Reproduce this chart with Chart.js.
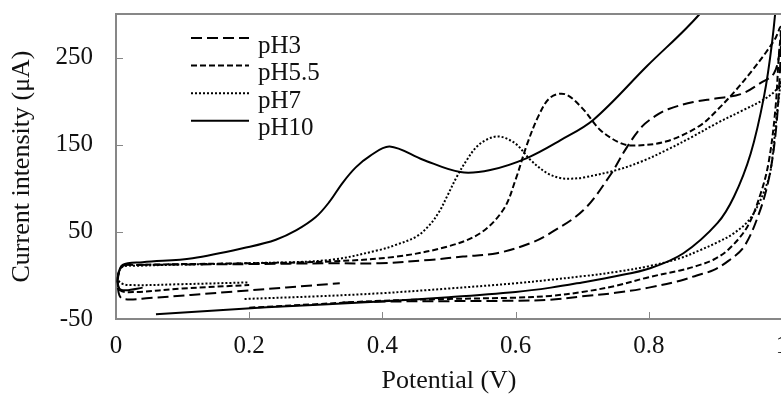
<!DOCTYPE html>
<html>
<head>
<meta charset="utf-8">
<script src="https://cdn.jsdelivr.net/npm/chart.js@4.4.1/dist/chart.umd.min.js"></script>
<style>
  html, body { margin: 0; padding: 0; background: #fff; overflow: hidden; }
  #wrap { position: relative; width: 800px; height: 394px; }
</style>
</head>
<body>
<div id="wrap"><canvas id="cv"></canvas></div>
<script>
// Cyclic voltammograms at four pH values.
const seriesNames = ['pH3', 'pH5.5', 'pH7', 'pH10'];

const pH3Potential = [0.34, 0.4, 0.5, 0.6, 0.652, 0.7, 0.75, 0.8, 0.847, 0.872, 0.897, 0.92, 0.943, 0.965, 0.98, 0.99, 0.996, 0.999,
  0.997, 0.988, 0.968, 0.938, 0.9, 0.867, 0.83, 0.81, 0.79, 0.767, 0.742, 0.702, 0.652, 0.622, 0.572, 0.521, 0.471, 0.396, 0.321,
  0.2, 0.1, 0.03, 0.01, 0.003, 0.004, 0.01, 0.05, 0.175, 0.336];
const pH3Current = [-31, -30, -29.5, -29, -28, -24, -20, -14, -6, 0, 6, 17, 33, 70, 110, 160, 220, 282,
  260, 232, 221, 208, 203, 199, 191, 183, 171, 147, 115, 75, 48.5, 37, 25.5, 21.6, 17.8, 14, 14,
  13, 12.5, 12, 11, 0, -20, -27, -26, -18.6, -9];

const pH55Potential = [0.2, 0.3, 0.4, 0.5, 0.6, 0.652, 0.7, 0.75, 0.8, 0.847, 0.872, 0.897, 0.92, 0.948, 0.968, 0.98, 0.99, 0.995, 0.998,
  0.99, 0.975, 0.955, 0.93, 0.903, 0.877, 0.827, 0.777, 0.757, 0.727, 0.7, 0.674, 0.652, 0.635, 0.617, 0.6, 0.582, 0.547, 0.497,
  0.421, 0.321, 0.2, 0.1, 0.03, 0.01, 0.003, 0.006, 0.03, 0.1, 0.2];
const pH55Current = [-37, -33, -29, -27, -25.5, -23.5, -19, -12, -2, 5.7, 11, 18, 30, 56, 94, 130, 190, 250, 285,
  272, 255, 235, 212, 190, 172, 154, 149, 152, 167, 192, 208, 204, 184, 150, 110, 76, 48.5, 33,
  21.6, 16, 14, 13, 12, 11, -3, -17, -19, -15, -11];

const pH7Potential = [0.193, 0.3, 0.396, 0.5, 0.6, 0.652, 0.7, 0.75, 0.802, 0.847, 0.877, 0.903, 0.928, 0.95, 0.963, 0.975, 0.983, 0.993, 0.998,
  0.999, 0.99, 0.973, 0.94, 0.903, 0.865, 0.827, 0.79, 0.752, 0.702, 0.682, 0.667, 0.647, 0.622, 0.602, 0.585, 0.572, 0.557, 0.542,
  0.527, 0.512, 0.497, 0.486, 0.471, 0.451, 0.42, 0.396, 0.321, 0.2, 0.1, 0.03, 0.01, 0.003, 0.006, 0.02, 0.1, 0.2];
const pH7Current = [-27, -24, -20.5, -15, -9, -5, -1, 4, 10.9, 19.8, 29, 38, 48.5, 63, 79, 100, 121, 190, 221,
  223, 212, 202, 189, 175, 159, 144, 131, 121, 112.4, 111, 111.7, 117.5, 132.8, 150, 157.5, 159.5, 156, 148,
  132.8, 113.6, 90.6, 74, 58, 44.6, 35, 29.3, 17.8, 14, 12.5, 11, 10, 0, -8, -11, -10, -8];

const pH10Potential = [0.06, 0.226, 0.396, 0.5, 0.6, 0.653, 0.7, 0.75, 0.802, 0.852, 0.903, 0.928, 0.953, 0.973, 0.985, 0.993, 1.0,
  0.95, 0.877, 0.797, 0.717, 0.667, 0.617, 0.562, 0.517, 0.461, 0.411, 0.381, 0.36, 0.34, 0.32, 0.3, 0.271, 0.24, 0.201, 0.115,
  0.04, 0.01, 0.003, 0.005, 0.015, 0.04];
const pH10Current = [-44.6, -36.6, -30, -25, -19, -14, -8, -1, 8.3, 25.5, 60, 90.6, 140, 205.5, 267, 330, 420,
  375, 300.6, 240, 178.7, 155, 134.7, 121, 118.6, 132.8, 148, 137, 124, 106, 84, 67, 52, 41, 33, 19.8,
  15.2, 12.1, -1.4, -15, -17, -14];

const xTicks = [0, 0.2, 0.4, 0.6, 0.8, 1];
const yTicks = [-50, 50, 150, 250];

const AXIS_GREY = '#878787';
const SERIF = "'Liberation Serif', 'Times New Roman', serif";

function toPoints(xs, ys) {
  return xs.map((x, i) => ({ x: x, y: ys[i] }));
}

function lineSet(label, xs, ys, dash, width) {
  return {
    label: label,
    data: toPoints(xs, ys),
    showLine: true,
    borderColor: '#000',
    backgroundColor: '#000',
    borderWidth: width,
    borderDash: dash,
    borderCapStyle: 'butt',
    pointRadius: 0,
    tension: 0.35,
    fill: false,
  };
}

// inner tick marks, top frame line and the in-plot legend
const framePlugin = {
  id: 'frame',
  afterDraw(chart) {
    const { ctx, chartArea } = chart;
    const xs = chart.scales.x, ys = chart.scales.y;
    ctx.save();
    ctx.strokeStyle = AXIS_GREY;
    ctx.lineWidth = 2;
    ctx.beginPath();
    ctx.moveTo(chartArea.left - 1, chartArea.top);
    ctx.lineTo(chartArea.right + 20, chartArea.top);
    ctx.stroke();

    ctx.lineWidth = 1;
    ctx.beginPath();
    yTicks.forEach((v) => {
      const py = Math.round(ys.getPixelForValue(v)) + 0.5;
      ctx.moveTo(chartArea.left, py);
      ctx.lineTo(chartArea.left + 7, py);
    });
    xTicks.forEach((v) => {
      const px = Math.round(xs.getPixelForValue(v)) + 0.5;
      ctx.moveTo(px, chartArea.bottom);
      ctx.lineTo(px, chartArea.bottom - 7);
    });
    ctx.stroke();

    // legend
    const x0 = chartArea.left + 75, x1 = chartArea.left + 133, tx = chartArea.left + 142;
    ctx.font = '25px ' + SERIF;
    ctx.fillStyle = '#111';
    ctx.textBaseline = 'alphabetic';
    chart.data.datasets.forEach((ds, i) => {
      const ly = chartArea.top + 24 + i * 27.6;
      ctx.strokeStyle = '#000';
      ctx.lineWidth = ds.borderWidth;
      ctx.setLineDash(ds.borderDash || []);
      ctx.beginPath();
      ctx.moveTo(x0, ly);
      ctx.lineTo(x1, ly);
      ctx.stroke();
      ctx.setLineDash([]);
      ctx.fillText(ds.label, tx, ly + 14.5);
    });
    ctx.restore();
  },
};

new Chart(document.getElementById('cv'), {
  type: 'scatter',
  data: {
    datasets: [
      lineSet(seriesNames[0], pH3Potential, pH3Current, [11, 5], 2),
      lineSet(seriesNames[1], pH55Potential, pH55Current, [6, 3], 2),
      lineSet(seriesNames[2], pH7Potential, pH7Current, [2, 2], 2),
      lineSet(seriesNames[3], pH10Potential, pH10Current, [], 2),
    ],
  },
  options: {
    responsive: true,
    maintainAspectRatio: false,
    animation: false,
    layout: { padding: { left: 0, top: 14, right: 18, bottom: 0 } },
    plugins: { legend: { display: false }, tooltip: { enabled: false } },
    scales: {
      x: {
        type: 'linear',
        min: 0,
        max: 1,
        afterBuildTicks: (s) => { s.ticks = xTicks.map((v) => ({ value: v })); },
        afterFit: (s) => {
          s.height = 75;
          s.paddingLeft = 0;
          s.paddingRight = 0;
        },
        grid: { display: false, drawTicks: false },
        border: { display: true, color: AXIS_GREY, width: 2 },
        ticks: {
          padding: 12,
          color: '#111',
          font: { family: SERIF, size: 25 },
          maxRotation: 0,
          callback: (v) => (v === 0 || v === 1 ? String(v) : v.toFixed(1)),
        },
        title: {
          display: true,
          text: 'Potential (V)',
          color: '#111',
          font: { family: SERIF, size: 26, lineHeight: 1 },
          padding: { top: 0, bottom: 0 },
        },
      },
      y: {
        type: 'linear',
        min: -50,
        max: 300,
        afterBuildTicks: (s) => { s.ticks = yTicks.map((v) => ({ value: v })); },
        afterFit: (s) => {
          s.width = 116;
          s.paddingTop = 0;
          s.paddingBottom = 0;
        },
        grid: { display: false, drawTicks: false },
        border: { display: true, color: AXIS_GREY, width: 2 },
        ticks: {
          padding: 23,
          color: '#111',
          font: { family: SERIF, size: 25 },
        },
        title: {
          display: true,
          text: 'Current intensity (μA)',
          color: '#111',
          font: { family: SERIF, size: 26, lineHeight: 1 },
          padding: { top: 9, bottom: 0 },
        },
      },
    },
  },
  plugins: [framePlugin],
});
</script>
</body>
</html>
